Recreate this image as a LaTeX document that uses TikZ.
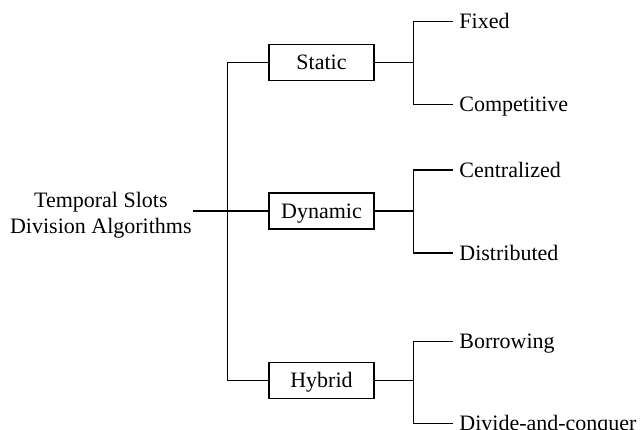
\documentclass[tikz,border=0pt]{standalone}
\usepackage{fontspec}
\setmainfont{Liberation Serif}
\usetikzlibrary{positioning}

\begin{document}
\begin{tikzpicture}[
	x = 1pt, y = -1pt, % pixel-like units, y going down
	line width = 1.4pt, % line style
	font = \fontsize{22}{26}\selectfont,
	R/.style={align=center, inner sep=1pt},  % root text
	B/.style={rectangle, draw=black, minimum width=105pt, minimum height=36pt, inner sep=0pt, text height=14.5pt, text depth=0pt}, % category boxes
	L/.style={inner xsep=6pt, inner ysep=0pt, text height=14.5pt, text depth=0pt}, % leaf texts
	]
	\useasboundingbox (0,0) rectangle (640,430);

	% Categories
	% Nodes and their relative positions
	\node[B] (Dyn) at (321.5,211) {Dynamic};
	\node[B] (Stat) [above = 111pt of Dyn] {Static};
	\node[B] (Hyb) [below = 132pt of Dyn] {Hybrid};
	\node[R] (T) [left = 75pt of Dyn, yshift=-4pt] {Temporal Slots\\Division Algorithms};
	\coordinate[left = 41pt of Dyn] (trunk);
	% Paths connecting nodes
	\draw (T.east |- Dyn.west) -- (Dyn.west);
	\draw (Stat.west) -| (trunk) |- (Hyb.west);

	% Static items
	\node[L] (Fix) [right = 78pt of Stat, yshift=41pt] {Fixed};
	\node[L] (Comp) [right = 78pt of Stat, yshift=-42pt] {Competitive};
	\coordinate[right = 39pt of Stat] (s1);
	\draw (Stat.east) -- (s1);
	\draw (Fix.west) -| (s1) |- (Comp.west);

	% Dynamic items
	\node[L] (Cent) [right = 78pt of Dyn, yshift=41pt] {Centralized};
	\node[L] (Dist) [right = 78pt of Dyn, yshift=-42pt] {Distributed};
	\coordinate[right = 39pt of Dyn] (s2);
	\draw (Dyn.east) -- (s2);
	\draw (Cent.west) -| (s2) |- (Dist.west);

	% Hybrid items
	\node[L] (Borr) [right = 78pt of Hyb, yshift=39pt] {Borrowing};
	\node[L] (Div) [right = 78pt of Hyb, yshift=-43pt] {Divide-and-conquer};
	\coordinate[right = 39pt of Hyb] (s3);
	\draw (Hyb.east) -- (s3);
	\draw (Borr.west) -| (s3) |- (Div.west);

\end{tikzpicture}
\end{document}
